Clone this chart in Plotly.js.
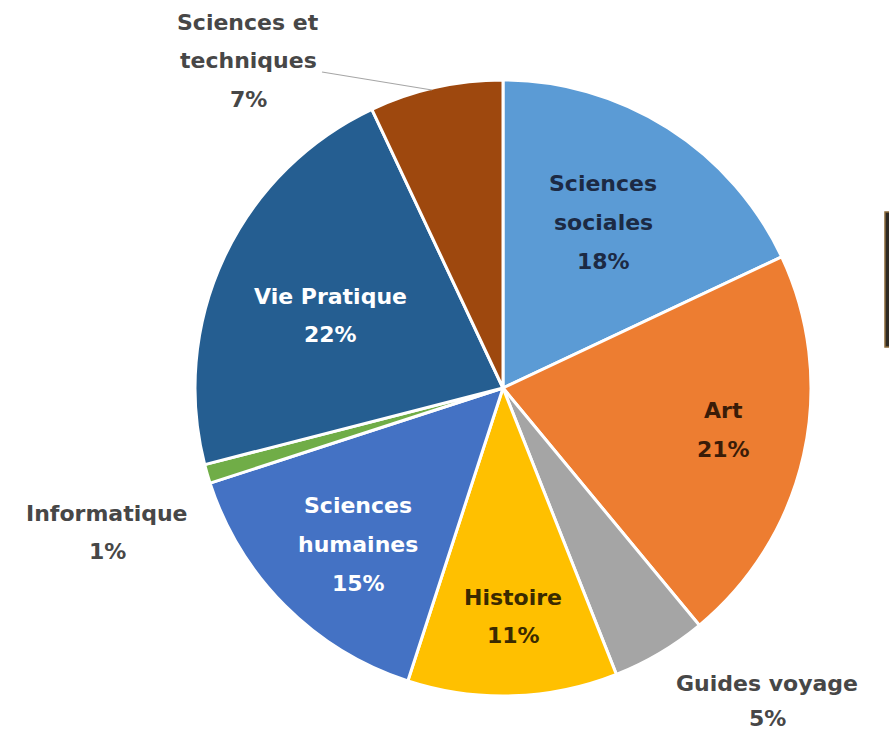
<!DOCTYPE html>
<html>
<head>
<meta charset="utf-8">
<script src="https://cdn.plot.ly/plotly-3.0.1.min.js"></script>
<style>html,body{margin:0;padding:0;background:#fff;}#chart{width:889px;height:731px;}</style>
</head>
<body>
<div id="chart"></div>
<script>
// ---- data ----
const categories = ["Sciences sociales", "Art", "Guides voyage", "Histoire", "Sciences humaines", "Informatique", "Vie Pratique", "Sciences et techniques"];
const values = [18, 21, 5, 11, 15, 1, 22, 7];
// label line breaks as shown in the chart
const labelLines = [
  ["Sciences", "sociales"],
  ["Art"],
  ["Guides voyage"],
  ["Histoire"],
  ["Sciences", "humaines"],
  ["Informatique"],
  ["Vie Pratique"],
  ["Sciences et", "techniques"]
];

// ---- styles ----
const colors = ["#5B9BD5", "#ED7D31", "#A5A5A5", "#FFC000", "#4472C4", "#70AD47", "#255E91", "#9E480E"];
const textColors = ["#1c2a44", "#3a1c08", "#474747", "#3a2a00", "#ffffff", "#474747", "#ffffff", "#474747"];
// label block centers in pixels (first line center)
const labelPos = [[603,183],[723,410],[767,683],[513,597],[358,505],[107,513],[330,297],[248,22]];
const lineGap = [39, 39, 35, 38, 39, 38, 37, 39];
const W = 889, H = 731;
const cx = 503, cy = 388, R = 308;

const total = values.reduce((a,b)=>a+b,0);
const annotations = [];
categories.forEach((c,i)=>{
  const lines = labelLines[i].concat([Math.round(values[i]/total*100) + "%"]);
  lines.forEach((t,k)=>{
    annotations.push({
      x: labelPos[i][0]/W, y: 1 - (labelPos[i][1] + k*lineGap[i])/H,
      xref: "paper", yref: "paper", xanchor: "center", yanchor: "middle",
      showarrow: false, text: "<b>" + t + "</b>",
      font: {family: "DejaVu Sans", size: 22, color: textColors[i]}
    });
  });
});

const data = [{
  type: "pie",
  labels: categories,
  values: values,
  sort: false,
  direction: "clockwise",
  rotation: 0,
  textinfo: "none",
  hoverinfo: "label+percent",
  marker: {colors: colors, line: {color: "#ffffff", width: 3}},
  domain: {x: [(cx-R)/W, (cx+R)/W], y: [1-(cy+R)/H, 1-(cy-R)/H]},
  showlegend: false
}];

const layout = {
  width: W, height: H,
  margin: {l:0, r:0, t:0, b:0},
  paper_bgcolor: "#ffffff",
  showlegend: false,
  annotations: annotations,
  shapes: [
    {type: "line", xref: "paper", yref: "paper", x0: 322/W, y0: 1-72/H, x1: 432/W, y1: 1-90/H,
     line: {color: "#a6a6a6", width: 1.2}},
    {type: "rect", xref: "paper", yref: "paper", x0: 885/W, x1: 895/W, y0: 1-347/H, y1: 1-212/H,
     fillcolor: "#2e2a24", line: {color: "#8a6a3a", width: 1.5}}
  ]
};

Plotly.newPlot("chart", data, layout, {staticPlot: true, displayModeBar: false});
</script>
</body>
</html>
